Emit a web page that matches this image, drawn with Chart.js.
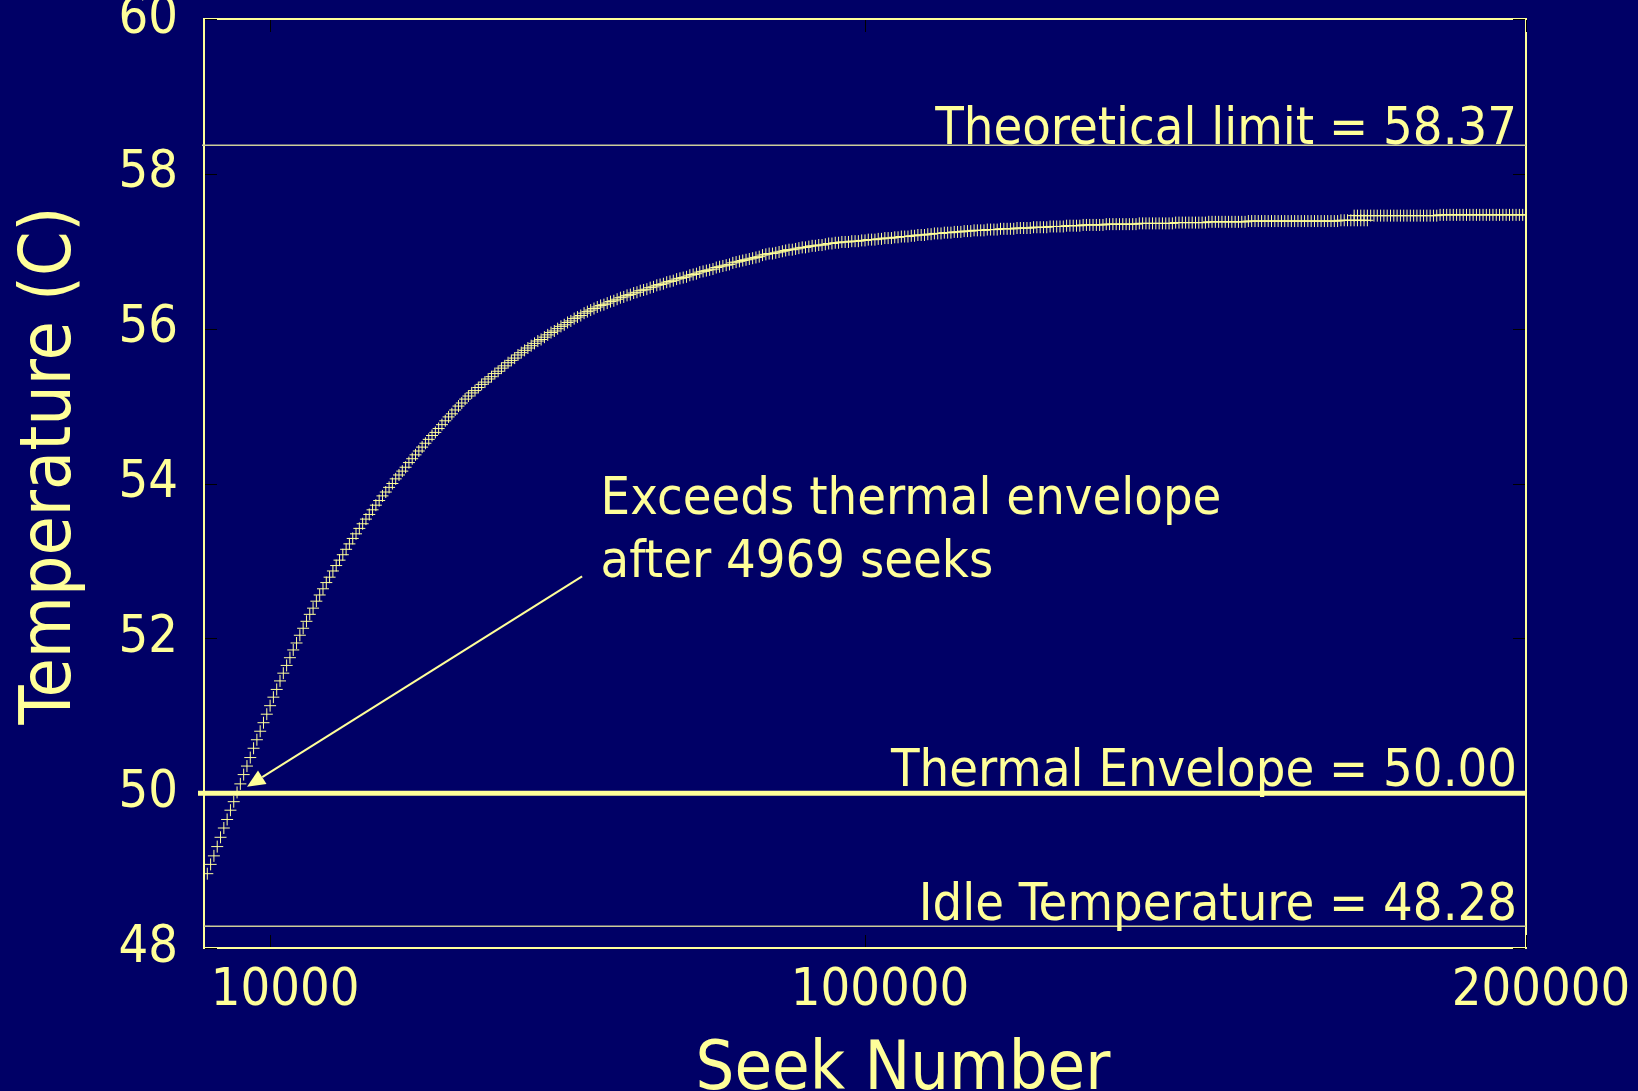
<!DOCTYPE html>
<html>
<head>
<meta charset="utf-8">
<title>Temperature vs Seek Number</title>
<script src="https://cdn.jsdelivr.net/npm/chart.js@4.4.1/dist/chart.umd.min.js"></script>
<style>
  html, body { margin: 0; padding: 0; background: #000066; }
  canvas { display: block; }
</style>
</head>
<body>
<canvas id="chart" width="1638" height="1091"></canvas>
<script>
// Samples are taken every 500 seeks.
const SEEK_INTERVAL = 500;

// Warm-up run, starting from seek 0.
const warmupStart = 0;
const warmupTemps = [
  48.28, 48.96, 49.08, 49.19, 49.31, 49.43, 49.55, 49.66, 49.78, 49.89,
  50.01, 50.12, 50.24, 50.35, 50.46, 50.58, 50.69, 50.80, 50.91, 51.02,
  51.13, 51.24, 51.34, 51.45, 51.55, 51.65, 51.75, 51.85, 51.94, 52.04,
  52.13, 52.22, 52.31, 52.39, 52.48, 52.56, 52.64, 52.72, 52.79, 52.87,
  52.94, 53.01, 53.08, 53.15, 53.22, 53.29, 53.35, 53.42, 53.48, 53.54,
  53.60, 53.66, 53.72, 53.78, 53.84, 53.89, 53.95, 54.00, 54.06, 54.11,
  54.16, 54.21, 54.27, 54.32, 54.37, 54.42, 54.47, 54.52, 54.57, 54.62,
  54.66, 54.71, 54.76, 54.81, 54.86, 54.90, 54.95, 55.00, 55.04, 55.09,
  55.13, 55.17, 55.20, 55.24, 55.28, 55.31, 55.35, 55.38, 55.42, 55.45,
  55.49, 55.52, 55.56, 55.59, 55.62, 55.66, 55.69, 55.72, 55.75, 55.78,
  55.81, 55.84, 55.86, 55.89, 55.92, 55.95, 55.97, 56.00, 56.03, 56.05,
  56.08, 56.10, 56.13, 56.15, 56.17, 56.20, 56.22, 56.24, 56.26, 56.28,
  56.30, 56.31, 56.33, 56.35, 56.36, 56.38, 56.40, 56.41, 56.43, 56.44,
  56.46, 56.47, 56.49, 56.50, 56.51, 56.53, 56.54, 56.56, 56.57, 56.58,
  56.60, 56.61, 56.62, 56.64, 56.65, 56.66, 56.67, 56.69, 56.70, 56.71,
  56.73, 56.74, 56.75, 56.76, 56.77, 56.79, 56.80, 56.81, 56.82, 56.83,
  56.85, 56.86, 56.87, 56.88, 56.89, 56.90, 56.91, 56.92, 56.93, 56.95,
  56.96, 56.97, 56.97, 56.98, 56.99, 57.00, 57.01, 57.02, 57.02, 57.03,
  57.04, 57.05, 57.05, 57.06, 57.07, 57.07, 57.08, 57.08, 57.09, 57.10,
  57.10, 57.11, 57.11, 57.12, 57.12, 57.12, 57.13, 57.13, 57.13, 57.14,
  57.14, 57.15, 57.15, 57.15, 57.16, 57.16, 57.17, 57.17, 57.17, 57.18,
  57.18, 57.19, 57.19, 57.19, 57.20, 57.20, 57.21, 57.21, 57.21, 57.22,
  57.22, 57.23, 57.23, 57.23, 57.24, 57.24, 57.24, 57.25, 57.25, 57.25,
  57.26, 57.26, 57.26, 57.27, 57.27, 57.27, 57.27, 57.28, 57.28, 57.28,
  57.28, 57.29, 57.29, 57.29, 57.29, 57.29, 57.30, 57.30, 57.30, 57.30,
  57.30, 57.31, 57.31, 57.31, 57.31, 57.31, 57.32, 57.32, 57.32, 57.32,
  57.32, 57.33, 57.33, 57.33, 57.33, 57.33, 57.34, 57.34, 57.34, 57.34,
  57.34, 57.34, 57.34, 57.35, 57.35, 57.35, 57.35, 57.35, 57.35, 57.35,
  57.35, 57.35, 57.35, 57.36, 57.36, 57.36, 57.36, 57.36, 57.36, 57.36,
  57.36, 57.36, 57.36, 57.36, 57.37, 57.37, 57.37, 57.37, 57.37, 57.37,
  57.37, 57.37, 57.37, 57.37, 57.38, 57.38, 57.38, 57.38, 57.38, 57.38,
  57.38, 57.38, 57.38, 57.38, 57.38, 57.38, 57.39, 57.39, 57.39, 57.39,
  57.39, 57.39, 57.39, 57.39, 57.39, 57.39, 57.39, 57.39, 57.39, 57.39,
  57.39, 57.39, 57.39, 57.39, 57.39, 57.39, 57.39, 57.39, 57.39, 57.39,
  57.39, 57.39, 57.39, 57.39, 57.40, 57.40, 57.40, 57.40, 57.40, 57.40,
  57.40, 57.40, 57.40
];

// Steady-state run, picked up at seek 174000.
const steadyStart = 174000;
const steadyTemps = [
  57.46, 57.46, 57.46, 57.46, 57.46, 57.46, 57.46, 57.46, 57.46, 57.46,
  57.46, 57.46, 57.46, 57.46, 57.46, 57.46, 57.46, 57.46, 57.46, 57.46,
  57.46, 57.46, 57.46, 57.46, 57.46, 57.46, 57.47, 57.47, 57.47, 57.47,
  57.47, 57.47, 57.47, 57.47, 57.47, 57.47, 57.47, 57.47, 57.47, 57.47,
  57.47, 57.47, 57.47, 57.47, 57.47, 57.47, 57.47, 57.47, 57.47, 57.47,
  57.47, 57.47, 57.47
];

const xTickValues = [10000, 100000, 200000];
const yTickValues = [48, 50, 52, 54, 56, 58, 60];

const refNames = ['Theoretical limit', 'Thermal Envelope', 'Idle Temperature'];
const refTemps = [58.37, 50.00, 48.28];

const crossingSeek = 4969;
const crossingTemp = 50.00;

const xTitle = 'Seek Number';
const yTitle = 'Temperature (C)';

const YELLOW = '#FFFF99';
const DIM = '#CCCC99';
const FONT = "'DejaVu Sans Condensed', 'DejaVu Sans', sans-serif";

Chart.defaults.font.family = FONT;
Chart.defaults.color = YELLOW;

function toPoints(start, temps) {
  return temps.map((t, i) => ({ x: start + i * SEEK_INTERVAL, y: t }));
}

// Frame, inward tick marks, reference lines, the callout and the axis titles.
const overlay = {
  id: 'overlay',
  beforeDraw(chart) {
    const { ctx, width, height } = chart;
    ctx.save();
    ctx.fillStyle = '#000066';
    ctx.fillRect(0, 0, width, height);
    ctx.restore();
  },
  beforeDatasetsDraw(chart) {
    const { ctx, chartArea: a, scales: { x, y } } = chart;
    ctx.save();
    ctx.strokeStyle = YELLOW;
    ctx.lineWidth = 2;
    ctx.strokeRect(a.left, a.top, a.right - a.left, a.bottom - a.top);

    ctx.strokeStyle = '#000000';
    ctx.lineWidth = 1;
    ctx.beginPath();
    yTickValues.forEach(v => {
      const py = Math.round(y.getPixelForValue(v)) + 0.5;
      ctx.moveTo(a.left + 1, py); ctx.lineTo(a.left + 13, py);
      ctx.moveTo(a.right - 13, py); ctx.lineTo(a.right - 1, py);
    });
    xTickValues.forEach(v => {
      const px = Math.round(x.getPixelForValue(v)) + 0.5;
      ctx.moveTo(px, a.top + 1); ctx.lineTo(px, a.top + 13);
      ctx.moveTo(px, a.bottom - 13); ctx.lineTo(px, a.bottom - 1);
    });
    ctx.stroke();
    ctx.restore();
  },
  afterDatasetsDraw(chart, args, opts) {
    const { ctx, chartArea: a, scales: { x, y } } = chart;
    ctx.save();

    // Horizontal reference lines with their labels
    const styles = [
      { color: DIM, width: 1.5, ext: 2, gap: 1 },
      { color: YELLOW, width: 5, ext: 6, gap: 7 },
      { color: DIM, width: 1.5, ext: 0, gap: 6 }
    ];
    ctx.font = `52px ${FONT}`;
    ctx.textAlign = 'right';
    ctx.textBaseline = 'alphabetic';
    refTemps.forEach((t, i) => {
      const s = styles[i];
      const py = y.getPixelForValue(t);
      ctx.strokeStyle = s.color;
      ctx.lineWidth = s.width;
      ctx.beginPath();
      ctx.moveTo(a.left - s.ext, py);
      ctx.lineTo(a.right, py);
      ctx.stroke();
      ctx.fillStyle = YELLOW;
      ctx.fillText(`${refNames[i]} = ${t.toFixed(2)}`, a.right - 9, py - s.gap);
    });

    // Callout text
    const nx = x.getPixelForValue(opts.note.seek);
    const ny = y.getPixelForValue(opts.note.temp);
    ctx.textAlign = 'left';
    ctx.fillText('Exceeds thermal envelope', nx, ny);
    ctx.fillText(`after ${crossingSeek} seeks`, nx, ny + opts.note.lineGap);

    // Arrow pointing at the crossing
    const cx = x.getPixelForValue(crossingSeek);
    const cy = y.getPixelForValue(crossingTemp);
    const sx = x.getPixelForValue(opts.arrowTail.seek);
    const sy = y.getPixelForValue(opts.arrowTail.temp);
    const len = Math.hypot(sx - cx, sy - cy);
    const ux = (sx - cx) / len, uy = (sy - cy) / len;
    const tipX = cx + ux * 12, tipY = cy + uy * 12;
    const head = 18, half = 8;
    const bx = tipX + ux * head, by = tipY + uy * head;
    ctx.strokeStyle = YELLOW;
    ctx.lineWidth = 2;
    ctx.beginPath();
    ctx.moveTo(sx, sy);
    ctx.lineTo(bx, by);
    ctx.stroke();
    ctx.fillStyle = YELLOW;
    ctx.beginPath();
    ctx.moveTo(tipX, tipY);
    ctx.lineTo(bx - uy * half, by + ux * half);
    ctx.lineTo(bx + uy * half, by - ux * half);
    ctx.closePath();
    ctx.fill();

    // Axis titles
    ctx.font = `68px ${FONT}`;
    ctx.textAlign = 'center';
    ctx.fillText(xTitle, (a.left + a.right) / 2 + opts.xTitleShift, opts.xTitleBaseline);
    ctx.font = `71px ${FONT}`;
    ctx.translate(opts.yTitleBaseline, (a.top + a.bottom) / 2 + opts.yTitleShift);
    ctx.rotate(-Math.PI / 2);
    ctx.fillText(yTitle, 0, 0);
    ctx.restore();
  }
};

new Chart(document.getElementById('chart'), {
  type: 'scatter',
  data: {
    datasets: [
      { label: 'Warm-up', data: toPoints(warmupStart, warmupTemps) },
      { label: 'Steady state', data: toPoints(steadyStart, steadyTemps) }
    ].map(d => Object.assign(d, {
      pointStyle: 'cross',
      pointRadius: 6,
      pointBorderWidth: 1,
      borderColor: YELLOW,
      backgroundColor: YELLOW,
      showLine: false
    }))
  },
  options: {
    responsive: false,
    devicePixelRatio: 1,
    animation: false,
    layout: { padding: { top: 19, right: 112, left: 0, bottom: 0 } },
    plugins: {
      legend: { display: false },
      tooltip: { enabled: false },
      overlay: {
        note: { seek: 60000, temp: 53.6, lineGap: 63 },
        arrowTail: { seek: 57200, temp: 52.8 },
        xTitleShift: 38,
        xTitleBaseline: 1089,
        yTitleShift: -18,
        yTitleBaseline: 70
      }
    },
    scales: {
      x: {
        type: 'linear',
        min: 0,
        max: 200000,
        grid: { display: false, drawTicks: false },
        border: { display: false },
        afterBuildTicks: s => { s.ticks = xTickValues.map(v => ({ value: v })); },
        afterFit: s => { s.height = 143; s.paddingLeft = 0; s.paddingRight = 0; },
        ticks: {
          font: { size: 52 },
          color: YELLOW,
          padding: 12,
          labelOffset: 15,
          maxRotation: 0,
          autoSkip: false,
          callback: v => String(v)
        }
      },
      y: {
        type: 'linear',
        min: 48,
        max: 60,
        grid: { display: false, drawTicks: false },
        border: { display: false },
        afterBuildTicks: s => { s.ticks = yTickValues.map(v => ({ value: v })); },
        afterFit: s => { s.width = 204; s.paddingTop = 0; s.paddingBottom = 0; },
        ticks: {
          font: { size: 52 },
          color: YELLOW,
          padding: 26,
          callback: v => String(v)
        }
      }
    }
  },
  plugins: [overlay]
});
</script>
</body>
</html>
